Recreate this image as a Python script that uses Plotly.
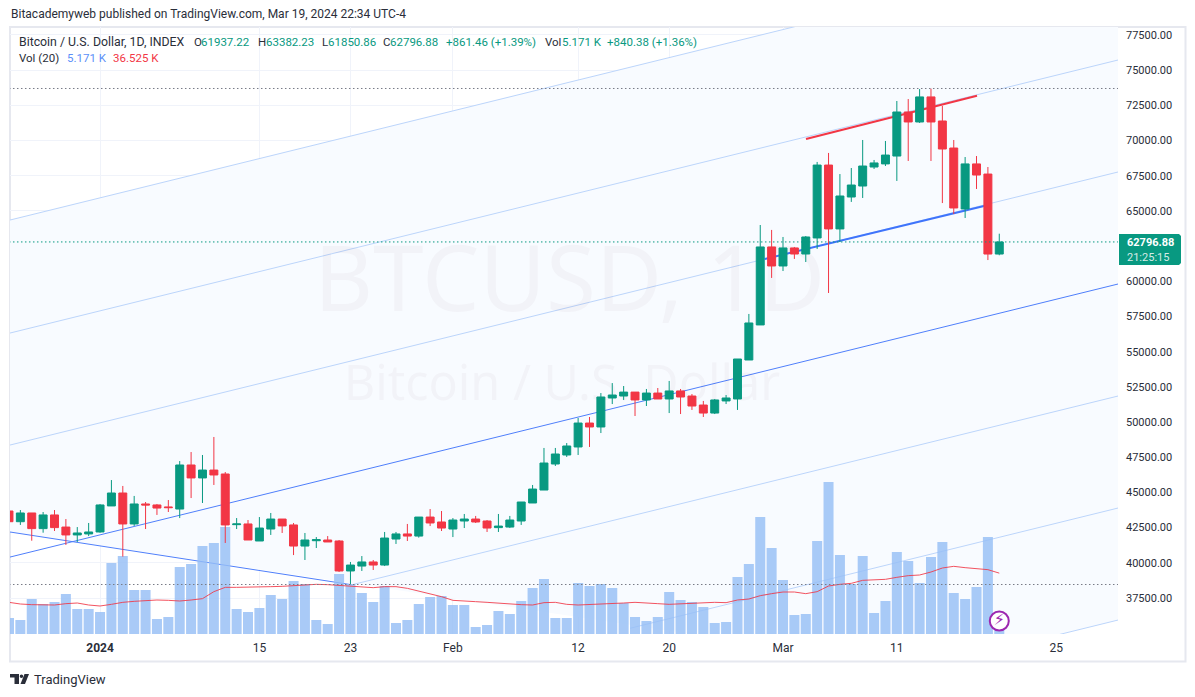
import pandas as pd
import plotly.graph_objects as go

dates = pd.date_range("2023-12-24", periods=88).strftime("%Y-%m-%d").tolist()
opens = [43680,42920,43540,42430,43400,42540,41980,42050,42190,44040,44960,42760,44180,44110,43970,43820,46950,46030,46590,46310,42710,42760,41550,42400,43110,42690,41190,41570,41620,41550,39420,39770,40060,39840,
41690,42050,41900,43250,42900,42400,42970,43110,42970,42500,42540,42970,44250,45170,47020,47660,48230,49930,49650,51710,51850,52130,51570,52060,51640,52210,51850,51210,50640,51500,51640,54410,56900,62440,61090,62370,61940,63080,68260,63720,65990,66770,68120,68340,68900,72030,71320,73100,71390,69470,65140,68340,67620,61937.22]
highs = [43800,43750,43540,43610,43750,43110,42540,42830,44180,45880,45460,44750,44320,44180,44460,47230,47870,47660,48940,46450,43180,43040,43250,43540,43110,42830,42120,41830,41900,41620,40060,40480,40200,42190,
42190,42760,43250,43820,43680,43180,43470,43330,43040,43470,43330,44320,45530,48160,48160,48510,50290,50360,52060,52770,52560,52130,52350,52420,52920,52350,51990,51500,51640,51920,54480,57680,64000,63650,63150,62440,63220,68480,69120,67620,68050,70040,68620,69970,72810,72950,73660,73690,72460,70040,68830,68900,68120,63382.23]
lows = [42700,42690,41570,42140,42260,41270,41480,41900,42140,44040,40440,42620,42400,43400,43610,43180,44600,44250,45530,41410,42400,41620,41550,41980,42120,40550,40200,41050,41480,39350,38490,39420,39490,39770,
41340,41550,41790,42610,42260,41830,42470,42830,42190,42190,42470,42690,44250,45170,46880,47520,47660,48230,49220,51280,51570,50430,51140,51640,50640,50570,50860,50360,50570,51280,50860,54410,56900,60240,60730,61590,61370,62300,59170,62790,65640,65920,67980,68190,67130,68550,71250,68550,65560,64780,64500,66560,61510,61850.86]
closes = [42920,43540,42430,43400,42500,41980,42120,42190,44110,44960,42760,44180,44110,43890,43920,46950,46030,46590,46240,42690,42760,41620,42470,43110,42620,41190,41620,41640,41480,39420,39840,40060,39840,41760,
42050,41900,43250,42830,42470,43040,43110,42900,42470,42610,43040,44320,45240,47090,47730,48300,49930,49650,51780,51920,52130,51570,52060,51640,52210,51780,51140,50640,51570,51710,54480,57040,62440,61090,62370,61940,63150,68260,63720,66060,66840,68190,68410,68970,72030,71320,73100,71320,69400,65210,68340,67550,61937.22,62796.88]
volumes = [9.6,8.4,21,18,19.2,24,15,15,13.2,42.6,46.8,26.4,26.4,9,10.2,40.2,42,52.8,54.6,64.2,15,13.2,15.6,23.4,21,31.8,30,8.4,6,36,30,24.6,19.2,28.8,
6.6,8.4,18,22.2,22.8,17.4,17.4,4.2,5.4,13.8,12,19.8,27.6,33,9.6,9.6,30.6,28.8,30,27.6,18.6,10.2,7.8,10.2,25.2,20.4,19.2,16.2,6.6,7.2,34.2,42,70.2,51.6,32.4,11.4,12,55.8,91.2,47.4,30,46.8,12.6,19.8,49.2,43.8,30.6,46.2,55.2,24.6,21,28.2,58.2,5.171]
vol_ma = [19,18,17.6,17.4,17.4,18.2,18.6,17.4,16.8,17.8,19,19.6,20.2,20.4,20.2,19.8,20.4,21.2,25.4,28,28,28,28.2,28.4,28.6,29,29.6,29.8,29.6,29.2,28.4,28,27.8,28.4,28.4,27.4,25.8,24.4,
22.4,20.2,20,19.4,19,18.4,18,17.6,17.4,18.8,19,17.8,17.4,17.6,18.2,18.4,18.6,19,18.8,18.2,17.8,18.2,18.6,18.8,19,18.8,20.4,21,23,24.2,25.2,25.2,24.2,25.4,28.8,29.8,30.4,32.2,32.4,32.8,34,35,35.4,37.2,39.6,40.6,39.8,39,38.6,36.525]

price_ticks = [37500 + 2500 * i for i in range(17)]
# The 62500 label sits under the last-price tag in the reference, so it is left blank
price_labels = ["" if p == 62500 else f"{p:.2f}" for p in price_ticks]
date_ticks = ["2024-01-01","2024-01-15","2024-01-23","2024-02-01","2024-02-12","2024-02-20","2024-03-01","2024-03-11","2024-03-25"]
date_labels = ["<b>2024</b>","15","23","Feb","12","20","Mar","11","25"]

EDGE_L, EDGE_R = "2023-12-24", "2024-03-31"
ch1 = [64335, 83865]
ch2 = [56306, 75836]
ch3 = [48349, 67879]
ch4 = [40391, 59921]
ch5_dates, ch5 = ["2024-01-23 03:00", EDGE_R], [38440, 51963]
ch6_dates, ch6 = ["2024-02-16 13:30", EDGE_R], [35349, 44005]
ch7_dates, ch7 = ["2024-03-16", EDGE_R], [33058, 36047]
base_dates, base = [EDGE_L, "2024-01-23 03:00"], [42200, 38440]
fill_dates = [EDGE_L, EDGE_L, EDGE_R, EDGE_R, "2024-03-13 01:00"]
fill_prices = [42200, 64335, 83865, 36047, 32500]
red_dates, red_prices = ["2024-03-03 00:30", "2024-03-18 01:00"], [70111, 73187]
blue_dates, blue_prices = ["2024-02-28 09:36", "2024-03-18 18:00"], [61585, 65372]
hi_level, lo_level, last_close = 73699, 38458, 62796.88

LIGHT, MID, RED, GREEN, INK = "#bcd5fb", "#4f7ffb", "#f23645", "#089981", "#2a2e39"
W, H = 1195, 697
L, R, T, B = 10, 1118, 27, 634
FONT = "Roboto"
X_RANGE = ["2023-12-24 02:10", "2024-03-30 10:19"]
Y_RANGE = [34942, 78068]


def fx(x):
    return (x - L) / (R - L)


def fy(y):
    return (B - y) / (B - T)


fig = go.Figure()

fig.add_trace(go.Scatter(x=fill_dates, y=fill_prices, fill="toself", mode="none",
                         fillcolor="#f8fbff", yaxis="y", hoverinfo="skip"))
for xs, ys, col, w in [
    ([EDGE_L, EDGE_R], ch1, LIGHT, 1), ([EDGE_L, EDGE_R], ch2, LIGHT, 1),
    ([EDGE_L, EDGE_R], ch3, LIGHT, 1), ([EDGE_L, EDGE_R], ch4, MID, 1),
    (ch5_dates, ch5, LIGHT, 1), (ch6_dates, ch6, LIGHT, 1), (ch7_dates, ch7, LIGHT, 1),
    (base_dates, base, MID, 1), (red_dates, red_prices, RED, 2), (blue_dates, blue_prices, "#3f74fb", 2),
]:
    fig.add_trace(go.Scatter(x=xs, y=ys, mode="lines", line=dict(color=col, width=w),
                             yaxis="y", hoverinfo="skip"))

# Watermark
fig.add_trace(go.Scatter(x=["2024-02-11 06:00", "2024-02-10 14:00"], y=[59530, 52450],
                         mode="text", text=["BTCUSD, 1D", "Bitcoin / U.S. Dollar"],
                         textfont=dict(family="Noto Sans", size=[91, 48.5], color="rgba(76,22,55,0.035)"),
                         textposition="middle center", yaxis="y", hoverinfo="skip"))

# Volume
fig.add_trace(go.Bar(x=dates, y=volumes, marker=dict(color="rgba(150,190,245,0.82)", line_width=0),
                     yaxis="y2", hoverinfo="skip"))
fig.add_trace(go.Scatter(x=dates, y=vol_ma, mode="lines", line=dict(color=RED, width=1),
                         opacity=0.85, yaxis="y2", hoverinfo="skip"))
fig.add_trace(go.Scatter(x=[dates[-1]], y=[7.8], mode="markers+text", text=["⚡"],
                         textposition="middle center",
                         textfont=dict(family="DejaVu Sans", size=16, color="#9c27b0"),
                         marker=dict(size=19, color="white", line=dict(color="#9c27b0", width=2)),
                         yaxis="y2", hoverinfo="skip"))

# Candles
fig.add_trace(go.Candlestick(x=dates, open=opens, high=highs, low=lows, close=closes,
                             increasing=dict(line=dict(color=GREEN, width=1), fillcolor=GREEN),
                             decreasing=dict(line=dict(color=RED, width=1), fillcolor=RED),
                             whiskerwidth=0, yaxis="y3", hoverinfo="skip"))

# Price level lines
for lvl, col in [(hi_level, "#787b86"), (lo_level, "#787b86"), (last_close, GREEN)]:
    fig.add_trace(go.Scatter(x=[EDGE_L, EDGE_R], y=[lvl, lvl], mode="lines",
                             line=dict(color=col, width=1, dash="1.5px,2.5px"), yaxis="y3", hoverinfo="skip"))


def text(x, y, s, color=INK, size=11.5, family=FONT, anchor="left"):
    return dict(x=fx(x), y=fy(y), xref="paper", yref="paper", text=s, showarrow=False,
                xanchor=anchor, yanchor="middle", align="left", borderpad=0,
                font=dict(family=family, size=size, color=color))


annots = [
    text(10, 14, "Bitacademyweb published on TradingView.com, Mar 19, 2024 22:34 UTC-4", INK, 12),
    text(18, 42, "Bitcoin / U.S. Dollar, 1D, INDEX", INK, 12.3),
    text(193, 42, "O"), text(200, 42, "61937.22", GREEN),
    text(257, 42, "H"), text(265, 42, "63382.23", GREEN),
    text(321, 42, "L"), text(327, 42, "61850.86", GREEN),
    text(382, 42, "C"), text(389, 42, "62796.88", GREEN),
    text(445, 42, "+861.46 (+1.39%)", GREEN),
    text(544, 42, "Vol"), text(561, 42, "5.171 K", GREEN),
    text(606, 42, "+840.38 (+1.36%)", GREEN),
    text(18, 58, "Vol (20)"), text(66, 58, "5.171 K", "#5b8ff9"), text(112, 58, "36.525 K", RED),
    text(1126, 242, "<b>62796.88</b>", "white", 11, FONT),
    text(1126, 257, "21:25:15", "#d5ebe6", 11, FONT),
    text(33, 679, "TradingView", INK, 13, FONT),
]


def path(points):
    return "M " + " L ".join(f"{fx(a):.5f},{fy(b):.5f}" for a, b in points) + " Z"


shapes = [
    dict(type="rect", xref="paper", yref="paper", x0=fx(10), x1=fx(1185.5), y0=fy(661.5), y1=fy(27),
         line=dict(color="#e6e8ef", width=2), layer="below"),
    dict(type="path", xref="paper", yref="paper",
         path=path([(1119, 234), (1179, 234), (1181, 236), (1181, 263), (1179, 265), (1119, 265)]),
         fillcolor=GREEN, line_width=0, layer="above"),
    dict(type="path", xref="paper", yref="paper",
         path=path([(10, 674), (19, 674), (19, 684), (14.5, 684), (14.5, 677.5), (10, 677.5)]),
         fillcolor=INK, line_width=0, layer="above"),
    dict(type="path", xref="paper", yref="paper",
         path=path([(24.5, 674), (29, 674), (25, 684), (20.5, 684)]),
         fillcolor=INK, line_width=0, layer="above"),
    dict(type="circle", xref="paper", yref="paper", x0=fx(19.7), x1=fx(23.2), y0=fy(678), y1=fy(674.5),
         fillcolor=INK, line_width=0, layer="above"),
]

fig.update_layout(
    width=W, height=H, autosize=False, showlegend=False,
    margin=dict(l=L, r=W - R, t=T, b=H - B, pad=0),
    paper_bgcolor="white", plot_bgcolor="white",
    bargap=0.12, boxgap=0.3, boxgroupgap=0,
    font=dict(family=FONT, size=11, color=INK),
    annotations=annots, shapes=shapes,
    xaxis=dict(type="date", range=X_RANGE, tickmode="array", tickvals=date_ticks, ticktext=date_labels,
               showgrid=True, gridcolor="#f0f3fa", gridwidth=1, zeroline=False, ticks="", showline=False,
               rangeslider=dict(visible=False), tickfont=dict(family=FONT, size=12, color=INK),
               ticklabelstandoff=5),
    yaxis=dict(range=Y_RANGE, side="right", tickmode="array", tickvals=price_ticks, ticktext=price_labels,
               showgrid=True, gridcolor="#f0f3fa", gridwidth=1, zeroline=False, ticks="", showline=False,
               tickfont=dict(family=FONT, size=11, color=INK), ticklabelstandoff=7),
    yaxis2=dict(range=[0, 364.2], overlaying="y", visible=False, fixedrange=True),
    yaxis3=dict(range=Y_RANGE, overlaying="y", visible=False, fixedrange=True),
)

fig.write_html("out.html", config={"displayModeBar": False}, post_script="document.body.style.margin='0';")
